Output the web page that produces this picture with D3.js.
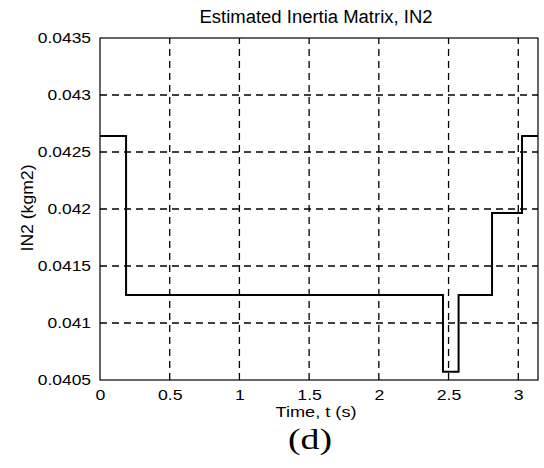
<!DOCTYPE html>
<html>
<head>
<meta charset="utf-8">
<script src="https://cdn.jsdelivr.net/npm/d3@7"></script>
<style>
  body { margin: 0; background: white; }
  text { font-family: "Liberation Sans", Arial, sans-serif; fill: black; }
</style>
</head>
<body>
<svg id="chart" width="544" height="468"></svg>
<script>
// step breakpoints (s) and the value held from each breakpoint on
const stepTimes = [0, 0.187, 2.46, 2.572, 2.812, 3.027, Math.PI];
const stepValues = [0.04264, 0.041246, 0.040573, 0.041246, 0.041965, 0.04264, 0.04264];
const xTicks = [0, 0.5, 1, 1.5, 2, 2.5, 3];
const yTicks = [0.0405, 0.041, 0.0415, 0.042, 0.0425, 0.043, 0.0435];

const margin = {top: 38, right: 6, bottom: 88, left: 100};
const W = 544, H = 468;

let svg = d3.select("#chart");

let x = d3.scaleLinear().domain([0, Math.PI]).range([margin.left, W - margin.right]);
let y = d3.scaleLinear().domain([0.0405, 0.0435]).range([H - margin.bottom, margin.top]);

//the scanned figure has wide-looking glyphs, so stretch text horizontally
let stretch = (sel, k) => {
    sel.each(function () {
        let len = this.getComputedTextLength();
        d3.select(this)
            .attr("textLength", len * k)
            .attr("lengthAdjust", "spacingAndGlyphs");
    });
};

let g = svg.append("g");

// dashed grid
g.selectAll(".vgrid")
    .data(xTicks.slice(1))
    .enter()
    .append("line")
        .attr("x1", d => x(d)).attr("x2", d => x(d))
        .attr("y1", y.range()[0]).attr("y2", y.range()[1])
        .attr("stroke", "black")
        .attr("stroke-width", 1.3)
        .attr("stroke-dasharray", "7,5");

g.selectAll(".hgrid")
    .data(yTicks.slice(1, -1))
    .enter()
    .append("line")
        .attr("x1", x.range()[0]).attr("x2", x.range()[1])
        .attr("y1", d => y(d)).attr("y2", d => y(d))
        .attr("stroke", "black")
        .attr("stroke-width", 1.3)
        .attr("stroke-dasharray", "7,5");

// axes box
g.append("rect")
    .attr("x", x.range()[0])
    .attr("y", y.range()[1])
    .attr("width", x.range()[1] - x.range()[0])
    .attr("height", y.range()[0] - y.range()[1])
    .attr("fill", "none")
    .attr("stroke", "black")
    .attr("stroke-width", 1.2);

let xAxis = d3.axisBottom(x).tickValues(xTicks).tickSize(0).tickPadding(9)
    .tickFormat(d => d);
let yAxis = d3.axisLeft(y).tickValues(yTicks).tickSize(0).tickPadding(9)
    .tickFormat(d => d);

let gx = g.append("g")
    .attr("transform", "translate(0," + y.range()[0] + ")")
    .call(xAxis);
gx.select(".domain").remove();
gx.selectAll("text").style("font-size", "15px").attr("dy", "0.75em").call(stretch, 1.18);

let gy = g.append("g")
    .attr("transform", "translate(" + x.range()[0] + ",0)")
    .call(yAxis);
gy.select(".domain").remove();
gy.selectAll("text").style("font-size", "15px").call(stretch, 1.16);

// step line
let stepData = stepTimes.map((t, i) => ({t: t, v: stepValues[i]}));
let line = d3.line()
    .x(d => x(d.t))
    .y(d => y(d.v))
    .curve(d3.curveStepAfter);

g.append("path")
    .datum(stepData)
    .attr("d", line)
    .attr("fill", "none")
    .attr("stroke", "black")
    .attr("stroke-width", 2);

// titles
svg.append("text")
    .attr("x", 316).attr("y", 23)
    .attr("text-anchor", "middle")
    .style("font-size", "18px")
    .attr("textLength", 233)
    .attr("lengthAdjust", "spacingAndGlyphs")
    .text("Estimated Inertia Matrix, IN2");

svg.append("text")
    .attr("transform", "translate(33,208) rotate(-90)")
    .attr("text-anchor", "middle")
    .style("font-size", "16px")
    .attr("textLength", 87)
    .attr("lengthAdjust", "spacingAndGlyphs")
    .text("IN2 (kgm2)");

svg.append("text")
    .attr("x", 316).attr("y", 417)
    .attr("text-anchor", "middle")
    .style("font-size", "15px")
    .attr("textLength", 81)
    .attr("lengthAdjust", "spacingAndGlyphs")
    .text("Time, t (s)");

svg.append("text")
    .attr("x", 310).attr("y", 449)
    .attr("text-anchor", "middle")
    .style("font-family", "'Liberation Serif', 'Times New Roman', serif")
    .style("font-size", "30px")
    .attr("textLength", 44)
    .attr("lengthAdjust", "spacingAndGlyphs")
    .text("(d)");
</script>
</body>
</html>
